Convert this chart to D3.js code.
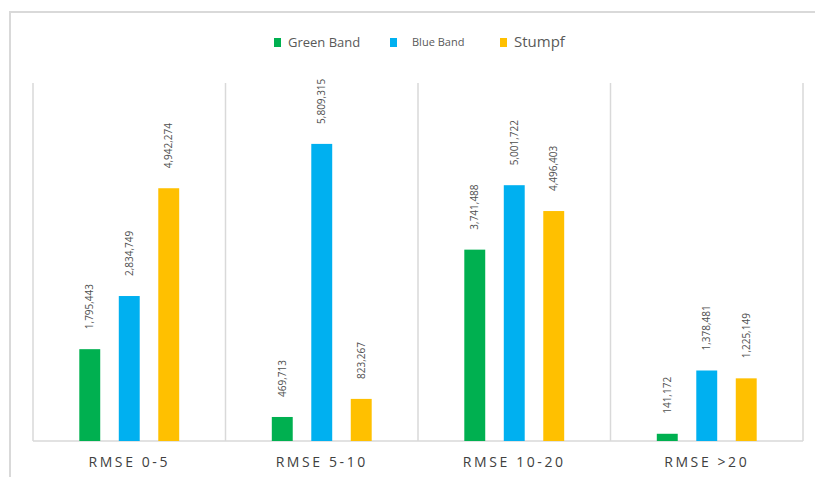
<!DOCTYPE html>
<html>
<head>
<meta charset="utf-8">
<script src="https://cdn.jsdelivr.net/npm/d3@7"></script>
<style>
html,body{margin:0;padding:0;background:#fff;}
svg{display:block;}
</style>
</head>
<body>
<svg id="chart" width="815" height="477"></svg>
<script>
const categories = ["RMSE 0-5", "RMSE 5-10", "RMSE 10-20", "RMSE >20"];
const seriesNames = ["Green Band", "Blue Band", "Stumpf"];
const greenBand = [1795443, 469713, 3741488, 141172];
const blueBand = [2834749, 5809315, 5001722, 1378481];
const stumpf = [4942274, 823267, 4496403, 1225149];
const seriesValues = [greenBand, blueBand, stumpf];
const colors = ["#00b050", "#00b0f0", "#ffc000"];
const legendFontSizes = [13, 11, 15];

const svg = d3.select("#chart");
const plot = {left: 33, right: 803, top: 83, bottom: 441};

// outer frame (clipped)
svg.append("rect")
  .attr("x", 10).attr("y", 12).attr("width", 900).attr("height", 600)
  .attr("fill", "none").attr("stroke", "#d9d9d9").attr("stroke-width", 2);

const x0 = d3.scaleBand().domain(categories).range([plot.left, plot.right]).padding(0);
const bw = x0.bandwidth();
const x1 = d3.scaleBand().domain(seriesNames)
  .range([bw/2 - 68.5, bw/2 + 68.5]).paddingInner(0.47).paddingOuter(0.47);
const y = d3.scaleLinear().domain([0, 7000000]).range([plot.bottom, plot.top]);

// vertical separators
const seps = categories.map(c => x0(c)).concat([plot.right]);
svg.append("g").selectAll("line").data(seps).join("line")
  .attr("x1", d => d).attr("x2", d => d)
  .attr("y1", plot.top).attr("y2", plot.bottom)
  .attr("stroke", "#d9d9d9").attr("stroke-width", 1.5);

// baseline
svg.append("line")
  .attr("x1", plot.left).attr("x2", plot.right)
  .attr("y1", plot.bottom).attr("y2", plot.bottom)
  .attr("stroke", "#d9d9d9").attr("stroke-width", 1.5);

const flat = [];
categories.forEach((c, i) => {
  seriesNames.forEach((s, j) => {
    flat.push({cat: c, ser: s, j: j, v: seriesValues[j][i]});
  });
});

svg.append("g").selectAll("rect").data(flat).join("rect")
  .attr("x", d => x0(d.cat) + x1(d.ser))
  .attr("width", x1.bandwidth())
  .attr("y", d => y(d.v))
  .attr("height", d => plot.bottom - y(d.v))
  .attr("fill", d => colors[d.j]);

// rotated value labels
const fmt = d3.format(",");
svg.append("g").selectAll("text").data(flat).join("text")
  .attr("transform", d => `translate(${x0(d.cat) + x1(d.ser) + x1.bandwidth()/2 + 3.5},${y(d.v) - 20}) rotate(-90)`)
  .attr("text-anchor", "start")
  .attr("font-family", "Open Sans, sans-serif")
  .attr("font-size", 10)
  .attr("fill", "#505050")
  .text(d => fmt(d.v));

// category axis labels
const xAxis = d3.axisBottom(x0).tickSize(0).tickPadding(0);
const ax = svg.append("g").attr("transform", `translate(0,${plot.bottom})`).call(xAxis);
ax.select(".domain").remove();
ax.selectAll("text")
  .attr("y", 16)
  .attr("font-family", "Open Sans, sans-serif")
  .attr("font-size", 14)
  .attr("letter-spacing", "2.6px")
  .attr("fill", "#404040");

// legend
const legendX = [274, 390, 500];
const lg = svg.append("g").selectAll("g").data(seriesNames).join("g")
  .attr("transform", (d, i) => `translate(${legendX[i]},42)`);
lg.append("rect").attr("x", 0).attr("y", -4).attr("width", 7).attr("height", 9)
  .attr("fill", (d, i) => colors[i]);
lg.append("text").attr("x", (d, i) => i === 1 ? 22 : 14)
  .attr("y", 0).attr("dy", "0.35em")
  .attr("font-family", "Open Sans, sans-serif")
  .attr("font-size", (d, i) => legendFontSizes[i])
  .attr("fill", "#595959")
  .text(d => d);
</script>
</body>
</html>
